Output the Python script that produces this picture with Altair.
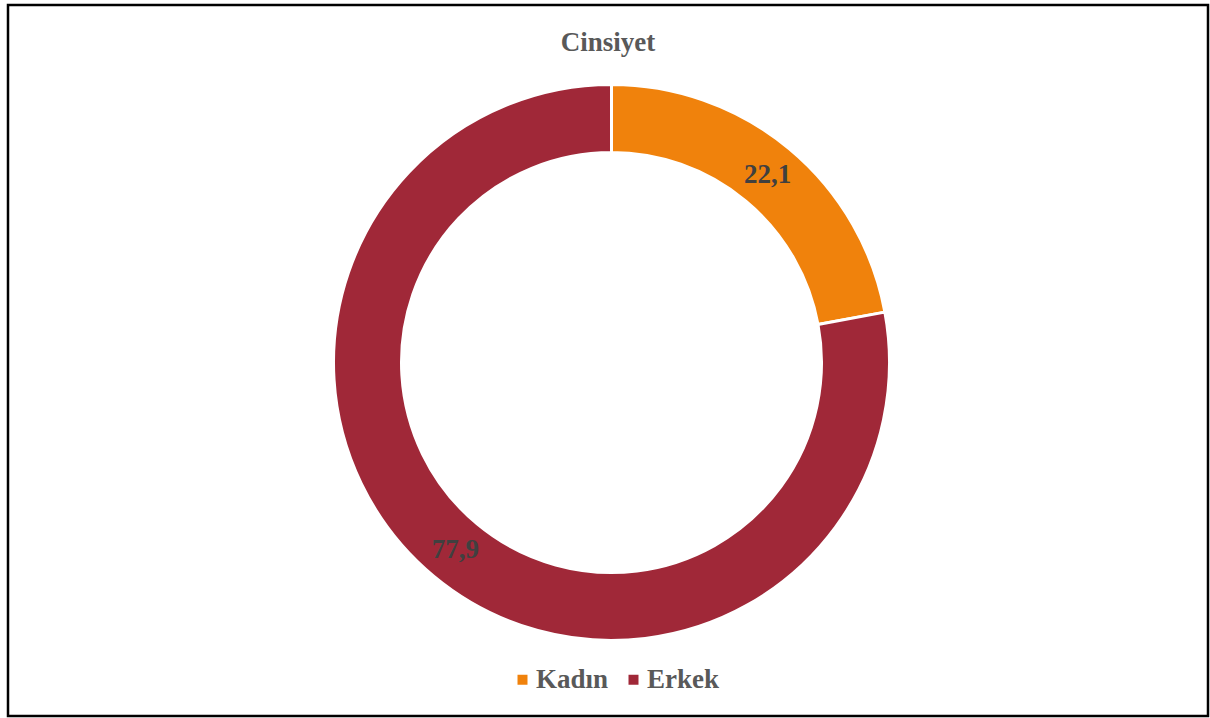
import altair as alt
import pandas as pd

categories = ["Kadın", "Erkek"]
values = [22.1, 77.9]
colors = ["#F0820C", "#A02838"]

df = pd.DataFrame({"cat": categories, "val": values, "idx": list(range(len(categories)))})

FONT = "Liberation Serif"
CX, CY = 603.5, 357.5

base = alt.Chart(df).encode(
    theta=alt.Theta("val:Q", stack=True),
    order=alt.Order("idx:Q"),
)

arc = base.mark_arc(outerRadius=278, innerRadius=210, stroke="white", strokeWidth=3).encode(
    color=alt.Color(
        "cat:N",
        scale=alt.Scale(domain=categories, range=colors),
        sort=categories,
        legend=alt.Legend(
            title=None,
            orient="none",
            direction="horizontal",
            legendX=501,
            legendY=661,
            symbolType="square",
            symbolSize=100,
            symbolStrokeWidth=0,
            symbolOpacity=1,
            labelFont=FONT,
            labelFontSize=27,
            labelFontWeight="bold",
            labelColor="#595959",
            labelOffset=0,
            columnPadding=11,
            padding=0,
        ),
    ),
    x=alt.value(CX),
    y=alt.value(CY),
)

text = base.transform_calculate(
    lbl="replace(format(datum.val, '.1f'), '.', ',')"
).mark_text(
    radius=244, font=FONT, fontSize=27, fontWeight="bold", color="#404040"
).encode(
    text="lbl:N",
    x=alt.value(CX),
    y=alt.value(CY),
)

chart = alt.layer(arc, text).properties(
    width=1200,
    height=711,
    padding={"left": 8, "top": 5, "right": 2, "bottom": 2},
    autosize=alt.AutoSizeParams(type="none"),
    background="white",
    title=alt.TitleParams(
        "Cinsiyet",
        font=FONT,
        fontSize=27,
        fontWeight="bold",
        color="#595959",
        anchor="middle",
        offset=-52,
    ),
).configure_view(stroke="black", strokeWidth=2.5)

chart.save("out.html", embed_options={"renderer": "svg", "actions": False})
